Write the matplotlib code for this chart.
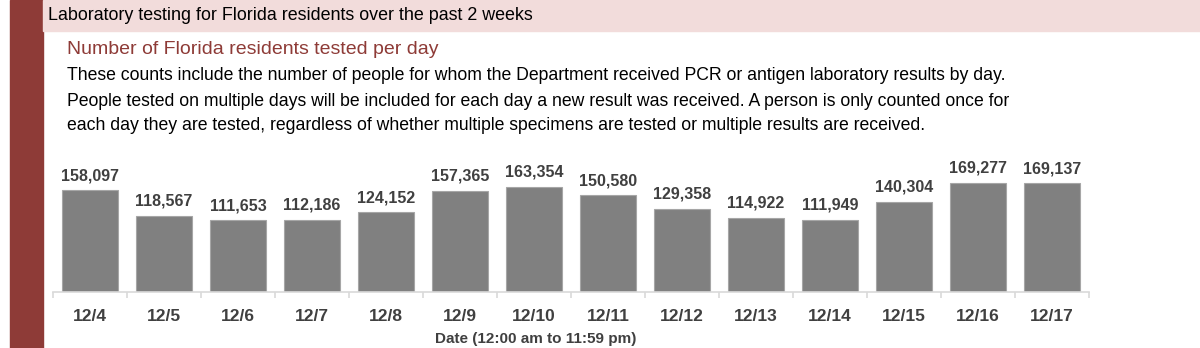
import matplotlib
matplotlib.use('Agg')

import matplotlib.pyplot as plt
from matplotlib.patches import Rectangle

# Data
dates = ['12/4', '12/5', '12/6', '12/7', '12/8', '12/9', '12/10',
         '12/11', '12/12', '12/13', '12/14', '12/15', '12/16', '12/17']
tested = [158097, 118567, 111653, 112186, 124152, 157365, 163354,
          150580, 129358, 114922, 111949, 140304, 169277, 169137]

header = 'Laboratory testing for Florida residents over the past 2 weeks'
subtitle = 'Number of Florida residents tested per day'
body = ['These counts include the number of people for whom the Department received PCR or antigen laboratory results by day.',
        'People tested on multiple days will be included for each day a new result was received. A person is only counted once for',
        'each day they are tested, regardless of whether multiple specimens are tested or multiple results are received.']
xlabel = 'Date (12:00 am to 11:59 pm)'

W, H = 1200, 348
sans = ['Liberation Sans', 'DejaVu Sans']

fig = plt.figure(figsize=(W / 100, H / 100), dpi=100)
fig.patch.set_facecolor('white')

# left stripe and header band
fig.patches.append(Rectangle((10 / W, 0), 33 / W, 1, transform=fig.transFigure,
                             color='#8e3b37', zorder=0))
fig.patches.append(Rectangle((43 / W, 1 - 31 / H), 1 - 43 / W, 31 / H,
                             transform=fig.transFigure, color='#f2dcdb', zorder=0))

fig.text(48 / W, 1 - 16 / H, header, fontsize=12.85, color='black',
         family=sans, va='center', ha='left')
fig.text(67 / W, 1 - 50 / H, subtitle, fontsize=14, color='#8e3b37',
         family=sans, va='center', ha='left')
for i, line in enumerate(body):
    fig.text(67 / W, 1 - (76 + 25 * i) / H, line, fontsize=12.7, color='black',
             family=sans, va='center', ha='left')

# chart axes
ax_left, ax_right = 53, 1089
ax_top, ax_bot = 155, 292
ax = fig.add_axes([ax_left / W, 1 - ax_bot / H, (ax_right - ax_left) / W, (ax_bot - ax_top) / H])

x = range(len(dates))
ax.bar(x, tested, width=0.77, color='#808080', edgecolor='#a6a6a6', linewidth=0.8)

scale = 109 / 169277  # px per person
ax.set_ylim(0, (ax_bot - ax_top) / scale)
ax.set_xlim(-0.5, len(dates) - 0.5)

for xi, v in zip(x, tested):
    ax.text(xi, v + 7 / scale, f'{v:,}', ha='center', va='bottom', fontsize=11.5,
            color='#404040', family=sans, fontweight='bold')

for s in ['top', 'right', 'left']:
    ax.spines[s].set_visible(False)
ax.spines['bottom'].set_color('#d9d9d9')
ax.spines['bottom'].set_linewidth(1.2)
ax.set_yticks([])

# ticks between categories
ax.set_xticks([i - 0.5 for i in range(len(dates) + 1)])
ax.set_xticklabels([])
ax.tick_params(axis='x', length=4, color='#d9d9d9', width=1.2)
ax.set_xticks(list(x), minor=True)
ax.set_xticklabels(dates, minor=True, fontsize=12.5, color='#404040',
                   family=sans, fontweight='bold')
ax.tick_params(axis='x', which='minor', length=0, pad=12)

fig.text(536 / W, 1 - 339 / H, xlabel, ha='center', va='center', fontsize=11,
         color='#404040', family=sans, fontweight='bold')

plt.savefig('out.png', dpi=100, facecolor='white')
